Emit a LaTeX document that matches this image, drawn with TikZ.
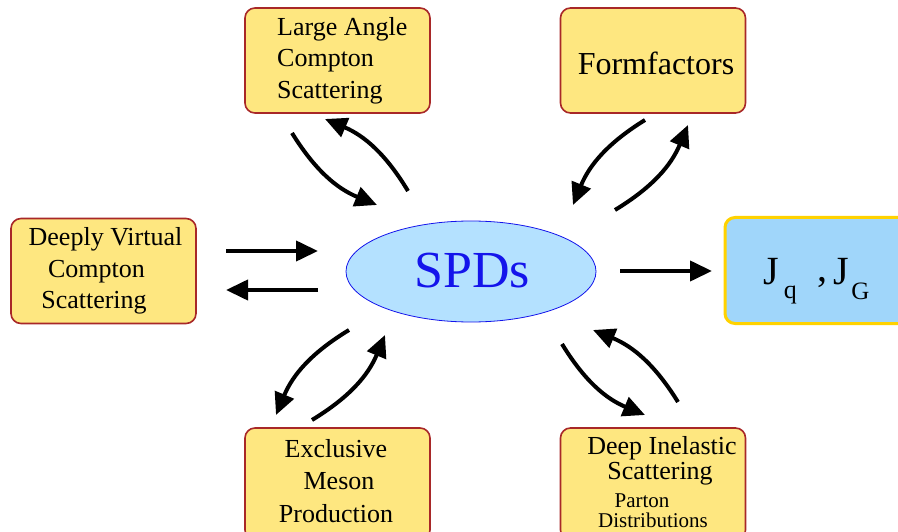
\documentclass[tikz,border=0pt]{standalone}
\usepackage{fontspec}
\setmainfont{Liberation Serif}
\usetikzlibrary{arrows.meta,shapes.geometric}
\definecolor{boxfill}{RGB}{254,231,128}
\definecolor{boxline}{RGB}{168,40,40}
\definecolor{jfill}{RGB}{160,214,250}
\definecolor{jline}{RGB}{255,210,0}
\definecolor{ellfill}{RGB}{180,225,255}
\definecolor{ellline}{RGB}{20,20,235}
\begin{document}
\begin{tikzpicture}[x=1pt,y=-1pt,
  procbox/.style={draw=boxline, fill=boxfill, line width=1.6pt, rounded corners=10pt,
    inner sep=0pt, minimum width=185pt, minimum height=105pt},
  lbl/.style={inner sep=0pt, font=\fontsize{26}{30}\selectfont},
  small/.style={inner sep=0pt, font=\fontsize{21}{24}\selectfont},
  flow/.style={line width=4pt, -{Triangle[length=22pt,width=20pt]}},
  swing/.style={flow, bend right=18},
]
\useasboundingbox (0,0) rectangle (898,532);

% process boxes
\node[procbox] (lacs) at (337.5,60.5) {};
\node[procbox] (ff) at (653,60.5) {};
\node[procbox] (dvcs) at (103.5,271) {};
\node[procbox, minimum height=112pt] (emp) at (337.5,484) {};
\node[procbox, minimum height=112pt] (dis) at (653,484) {};
\node[draw=jline, fill=jfill, line width=3pt, rounded corners=10pt, inner sep=0pt,
  minimum width=190pt, minimum height=106pt] (jbox) at (820,270.5) {};

% central ellipse
\node[ellipse, draw=ellline, fill=ellfill, line width=0.8pt, inner sep=0pt,
  minimum width=250pt, minimum height=101pt] (spd) at (471,271.5) {};
\node[inner sep=0pt, text=ellline, font=\fontsize{52}{52}\selectfont] (spdtxt) at (472,271) {SPDs};

% box labels
\node[lbl, anchor=west] (lacsA) at (277,29) {Large Angle};
\node[lbl, anchor=west] (lacsB) at (277,61) {Compton};
\node[lbl, anchor=west] (lacsC) at (277,93) {Scattering};

\node[inner sep=0pt, font=\fontsize{32}{32}\selectfont] (fftxt) at (656,63) {Formfactors};

\node[lbl] (dvcsA) at (105.5,239) {Deeply Virtual};
\node[lbl] (dvcsB) at (96.5,272) {Compton};
\node[lbl] (dvcsC) at (94,303) {Scattering};

\node[lbl] (empA) at (336,449) {Exclusive};
\node[lbl] (empB) at (339,481) {Meson};
\node[lbl] (empC) at (336,514) {Production};

\node[lbl] (disA) at (662,448) {Deep Inelastic};
\node[lbl] (disB) at (660,474) {Scattering};
\node[small] (disC) at (642,501) {Parton};
\node[small] (disD) at (653,520) {Distributions};

% J_q , J_G label
\node[inner sep=0pt, anchor=base west, font=\fontsize{40}{40}\selectfont] (jtxt) at (763,284)
  {J\hspace{5pt}\raisebox{-14pt}{\fontsize{26}{26}\selectfont q}\hspace{21pt}\raisebox{3pt}{,}\hspace{6pt}J\hspace{2pt}\raisebox{-15pt}{\fontsize{25}{25}\selectfont G}};

% connector end points
\coordinate (a1s) at (292,133); \coordinate (a1e) at (377,205);
\coordinate (a2s) at (408,191); \coordinate (a2e) at (325,119);
\coordinate (b1s) at (645,120); \coordinate (b1e) at (573,205);
\coordinate (b2s) at (615,210); \coordinate (b2e) at (688,125);
\coordinate (c1s) at (226,251); \coordinate (c1e) at (318,251);
\coordinate (c2s) at (318,290); \coordinate (c2e) at (226,290);
\coordinate (d1s) at (620,271); \coordinate (d1e) at (712,271);
\coordinate (e1s) at (349,330); \coordinate (e1e) at (276,415);
\coordinate (e2s) at (312,420); \coordinate (e2e) at (385,335);
\coordinate (f1s) at (562,344); \coordinate (f1e) at (645,415);
\coordinate (f2s) at (678,402); \coordinate (f2e) at (593,330);

% connectors
\draw[swing] (a1s) to (a1e);
\draw[swing] (a2s) to (a2e);
\draw[swing] (b1s) to (b1e);
\draw[swing] (b2s) to (b2e);
\draw[flow] (c1s) -- (c1e);
\draw[flow] (c2s) -- (c2e);
\draw[flow] (d1s) -- (d1e);
\draw[swing] (e1s) to (e1e);
\draw[swing] (e2s) to (e2e);
\draw[swing] (f1s) to (f1e);
\draw[swing] (f2s) to (f2e);
\end{tikzpicture}
\end{document}
